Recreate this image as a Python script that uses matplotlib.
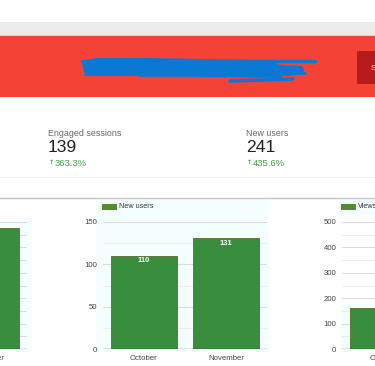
import matplotlib
matplotlib.use('Agg')
import matplotlib.pyplot as plt
from matplotlib.patches import Rectangle
import numpy as np

plt.rcParams['font.family'] = ['Liberation Sans', 'DejaVu Sans']

# data
kpi_names = ['Engaged sessions', 'New users']
kpi_values = ['139', '241']
kpi_changes = ['363.3%', '435.6%']

months = ['October', 'November']
left_values = [40, 95]          # left chart, only November visible
new_users = [110, 131]
views = [162, 300]              # right chart, only October visible

W, H = 375, 366
GREEN = '#388e3c'
EDGE = '#5b6b2c'


def box(x0, y0, x1, y1):
    return [x0 / W, 1 - y1 / H, (x1 - x0) / W, (y1 - y0) / H]


fig = plt.figure(figsize=(W / 100, H / 100), dpi=100)
bg = fig.add_axes([0, 0, 1, 1])
bg.set_xlim(0, W)
bg.set_ylim(H, 0)
bg.axis('off')

# header
bg.add_patch(Rectangle((0, 22), W, 13, color='#ececec', lw=0))
bg.plot([0, W], [35, 35], color='#d9d2cc', lw=0.8)
bg.add_patch(Rectangle((0, 36), W, 61, color='#f44336', lw=0))
bg.add_patch(Rectangle((357, 51), 30, 33, color='#b71c1c', lw=0))
bg.text(371, 68, 'S', color='white', fontsize=6, va='center')
# redaction scribble
blue = '#0b78d4'
bg.fill([82, 95, 150, 260, 285, 282, 140, 85], [62, 58, 58, 60, 66, 78, 76, 76], color=blue, lw=0)
for xs, ys, w in [([82, 315], [61, 61], 2.5), ([88, 300], [68, 70], 6), ([140, 290], [74, 73], 4),
                  ([230, 293], [81, 79], 2.5), ([270, 305], [73, 73], 2)]:
    bg.plot(xs, ys, color=blue, lw=w, solid_capstyle='round')

# kpi section
bg.plot([0, W], [177, 177], color='#f3f3f3', lw=0.8)
bg.plot([0, W], [197.5, 197.5], color='#c4c4c4', lw=1.0)
for x, name, val, chg in zip([48, 246], kpi_names, kpi_values, kpi_changes):
    bg.text(x, 133, name, fontsize=6.4, color='#666666', va='center')
    bg.text(x, 147.5, val, fontsize=12.6, color='#212121', va='center')
    bg.text(x + 1, 163, '↑', fontsize=4.5, color='#43a047', va='center', fontweight='bold',
            family=['DejaVu Sans'])
    bg.text(x + 6.5, 163, chg, fontsize=6.8, color='#43a047', va='center')

# faint cyan tint regions
tint = '#f5fefe'
bg.add_patch(Rectangle((0, 218), 32, 134, color=tint, lw=0))
bg.add_patch(Rectangle((96, 199), 173, 153, color=tint, lw=0))
bg.add_patch(Rectangle((337, 199), 40, 16, color=tint, lw=0))
bg.add_patch(Rectangle((341, 304), 40, 48, color=tint, lw=0))


def bar_chart(x0, vals, ymax, major, minor, show_ticks, labels, legend):
    ax = fig.add_axes(box(x0, 222, x0 + 164, 349))
    ax.patch.set_alpha(0)
    x = np.arange(len(months))
    ax.set_xlim(-0.5, 1.5)
    ax.set_ylim(0, ymax)
    for v in np.arange(minor, ymax + 0.1, minor):
        is_major = abs(v / major - round(v / major)) < 1e-6
        ax.axhline(v, color='#dcdcdc' if is_major else '#eeeeee', lw=0.8, zorder=0)
    ax.bar(x, vals, width=0.8, color=GREEN, edgecolor=EDGE, linewidth=0.6, zorder=2)
    ax.axhline(0, color='#333333', lw=0.9, zorder=3)
    if labels:
        for xi, v in zip(x, vals):
            ax.text(xi, v - ymax * 0.04, str(v), color='white', fontsize=5.4, fontweight='bold',
                    ha='center', va='center', zorder=4)
    for s in ax.spines.values():
        s.set_visible(False)
    ax.tick_params(length=0, labelsize=5.6, labelcolor='#444444', pad=4)
    ax.set_xticks(x)
    ax.set_xticklabels(months)
    if show_ticks:
        ax.set_yticks(np.arange(0, ymax + 1, major))
    else:
        ax.set_yticks([])
    if legend:
        lx = x0 - 1
        bg.add_patch(Rectangle((lx, 203.5), 15, 6, color='#558b2f', lw=0))
        bg.text(lx + 17, 206.5, legend, fontsize=5.2, color='#333333', va='center')
    return ax


bar_chart(-137, left_values, 100, 10, 10, False, False, None)
bar_chart(103, new_users, 150, 50, 25, True, True, 'New users')
bar_chart(342, views, 500, 100, 50, True, False, 'Views')

fig.savefig('out.png', dpi=100)
